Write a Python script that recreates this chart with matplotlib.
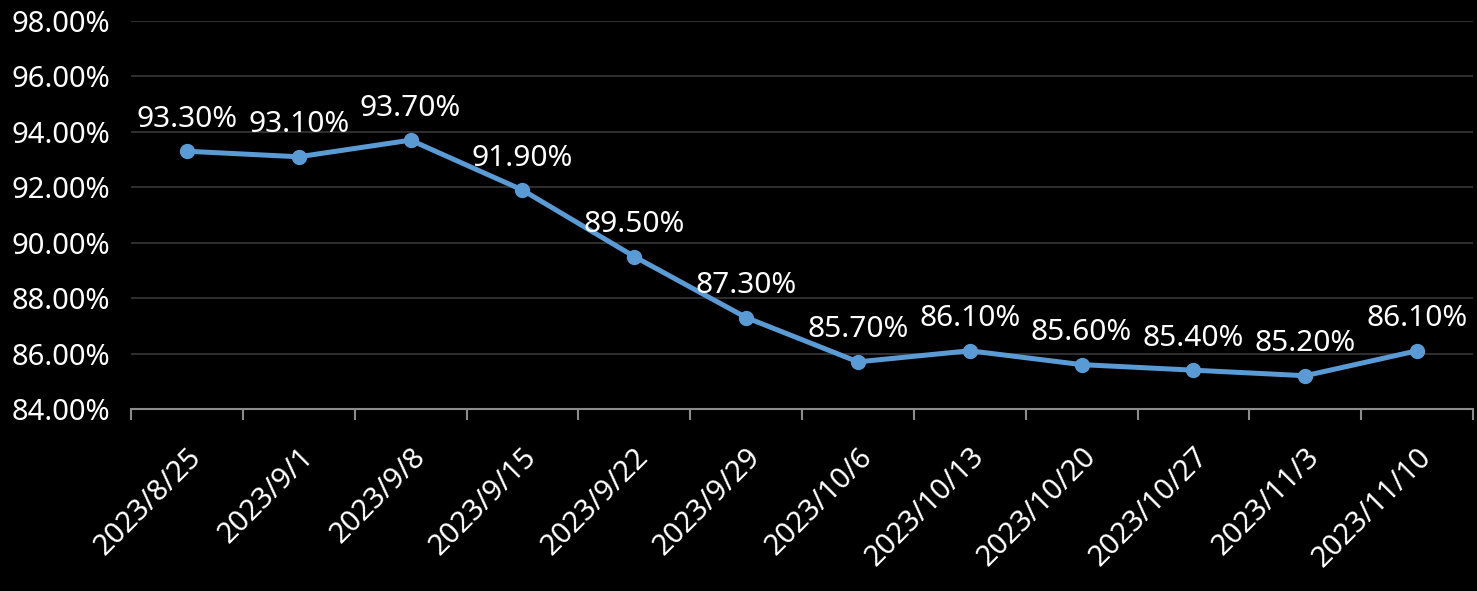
import matplotlib
matplotlib.use("Agg")
import matplotlib.pyplot as plt
import numpy as np
from matplotlib.ticker import FuncFormatter, FixedLocator

dates = ["2023/8/25", "2023/9/1", "2023/9/8", "2023/9/15", "2023/9/22", "2023/9/29",
         "2023/10/6", "2023/10/13", "2023/10/20", "2023/10/27", "2023/11/3", "2023/11/10"]
rates = [93.30, 93.10, 93.70, 91.90, 89.50, 87.30, 85.70, 86.10, 85.60, 85.40, 85.20, 86.10]
y_ticks = [84, 86, 88, 90, 92, 94, 96, 98]

plt.rcParams['font.family'] = ['Noto Sans', 'DejaVu Sans']

fig = plt.figure(figsize=(14.77, 5.91), dpi=100, facecolor='black')
ax = fig.add_axes([0.0887, 0.308, 0.9086, 0.6565])
ax.set_facecolor('black')

x = np.arange(len(dates))
ax.plot(x, rates, color='#5B9BD5', lw=3.6, marker='o', ms=10, zorder=3)

for xi, v in zip(x, rates):
    ax.annotate(f"{v:.2f}%", (xi, v), xytext=(0, 12.5), textcoords='offset points',
                ha='center', va='bottom', color='white', fontsize=21.5)

ax.set_xlim(-0.5, len(dates) - 0.5)
ax.set_ylim(84, 98)
ax.set_yticks(y_ticks)
ax.yaxis.set_major_formatter(FuncFormatter(lambda v, p: f"{v:.2f}%"))
ax.grid(axis='y', color='#2e2e2e', lw=1.5)
ax.set_axisbelow(True)

ax.set_xticks(x)
ax.set_xticklabels(dates, rotation=45, ha='right', rotation_mode='anchor')
ax.xaxis.set_minor_locator(FixedLocator(np.arange(-0.5, len(dates), 1.0)))
ax.tick_params(axis='x', which='major', length=0, pad=24, colors='white', labelsize=21)
ax.tick_params(axis='x', which='minor', length=8, width=1.5, color='#8c8c8c')
ax.tick_params(axis='y', length=0, pad=15, colors='white', labelsize=21)

for s in ['top', 'right', 'left']:
    ax.spines[s].set_visible(False)
ax.spines['bottom'].set_color('#8c8c8c')
ax.spines['bottom'].set_linewidth(1.5)

fig.savefig('out.png', dpi=100, facecolor='black')
